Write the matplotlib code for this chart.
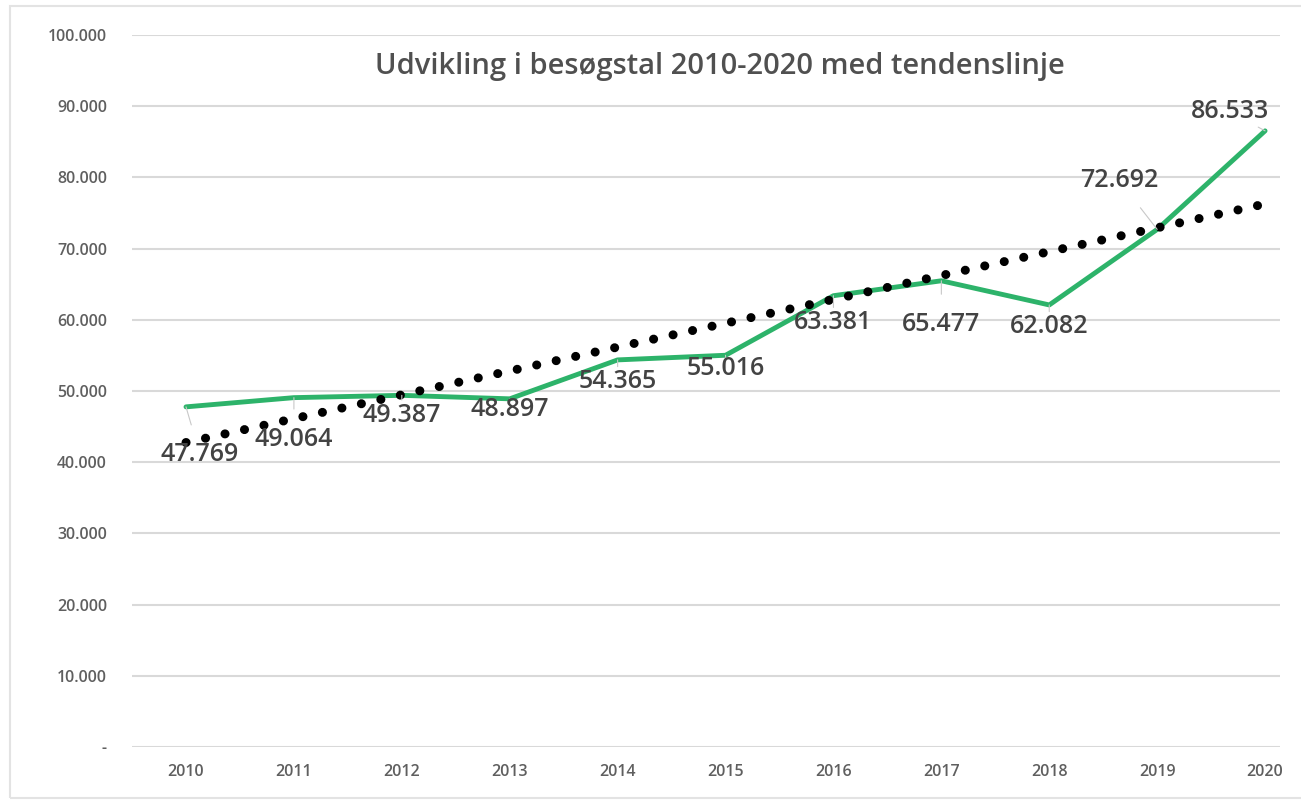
import numpy as np
import matplotlib
matplotlib.use('Agg')
import matplotlib.pyplot as plt
from matplotlib.patches import Rectangle

plt.rcParams['font.family'] = ['Open Sans', 'DejaVu Sans']

# data
years = ['2010', '2011', '2012', '2013', '2014', '2015', '2016', '2017', '2018', '2019', '2020']
visitors = [47769, 49064, 49387, 48897, 54365, 55016, 63381, 65477, 62082, 72692, 86533]
# label offsets in pixels (dx, dy) relative to each point
label_dx = [14, 0, 0, 0, 0, 0, 0, 0, 0, -38, -35]
label_dy = [-48, -42, -20, -11, -22, -13, -27, -44, -22, 49, 19]

x = np.arange(len(years))
y = np.array(visitors)

# linear trend line
slope, intercept = np.polyfit(x, y, 1)
trend = slope * x + intercept

fig = plt.figure(figsize=(13.01, 8.02), dpi=100)
ax = fig.add_axes([0.1015, 0.0686, 0.8825, 0.8878])

ax.set_xlim(-0.5, 10.14)
ax.set_ylim(0, 100000)

ax.plot(x, y, color='#2db36a', lw=3.5, solid_capstyle='round', zorder=3)
ax.plot(x, trend, color='black', lw=6.5, linestyle=(0, (0.01, 2.2)),
        dash_capstyle='round', zorder=4)

for xi, yi, dx, dy in zip(x, y, label_dx, label_dy):
    txt = f'{yi:,}'.replace(',', '.')
    ax.annotate(txt, (xi, yi), xytext=(dx, dy), textcoords='offset pixels',
                ha='center', va='center', fontsize=18, fontweight='semibold',
                color='#434343', zorder=5,
                arrowprops=dict(arrowstyle='-', color='#c8c8c8', lw=0.8,
                                shrinkA=11, shrinkB=0))

ax.set_yticks(np.arange(0, 100001, 10000))
ax.set_yticklabels(['-'] + [f'{v:,}'.replace(',', '.') for v in range(10000, 100001, 10000)])
ax.set_xticks(x)
ax.set_xticklabels(years)
ax.tick_params(axis='both', length=0, labelsize=11.5, labelcolor='#5f5f5f')
for lbl in ax.get_xticklabels() + ax.get_yticklabels():
    lbl.set_fontweight('semibold')
ax.tick_params(axis='y', pad=18)
ax.tick_params(axis='x', pad=12)
ax.grid(axis='y', color='#d9d9d9', lw=1.5)
ax.set_axisbelow(True)
for s in ax.spines.values():
    s.set_visible(False)

fig.text(0.5535, 0.917, 'Udvikling i besøgstal 2010-2020 med tendenslinje',
         ha='center', va='center', fontsize=21, fontweight='semibold', color='#505050')

fig.patches.append(Rectangle((0.008, 0.005), 1.0, 0.988, transform=fig.transFigure,
                             fill=False, edgecolor='#e3e3e3', lw=1.5))

fig.savefig('out.png', dpi=100)
